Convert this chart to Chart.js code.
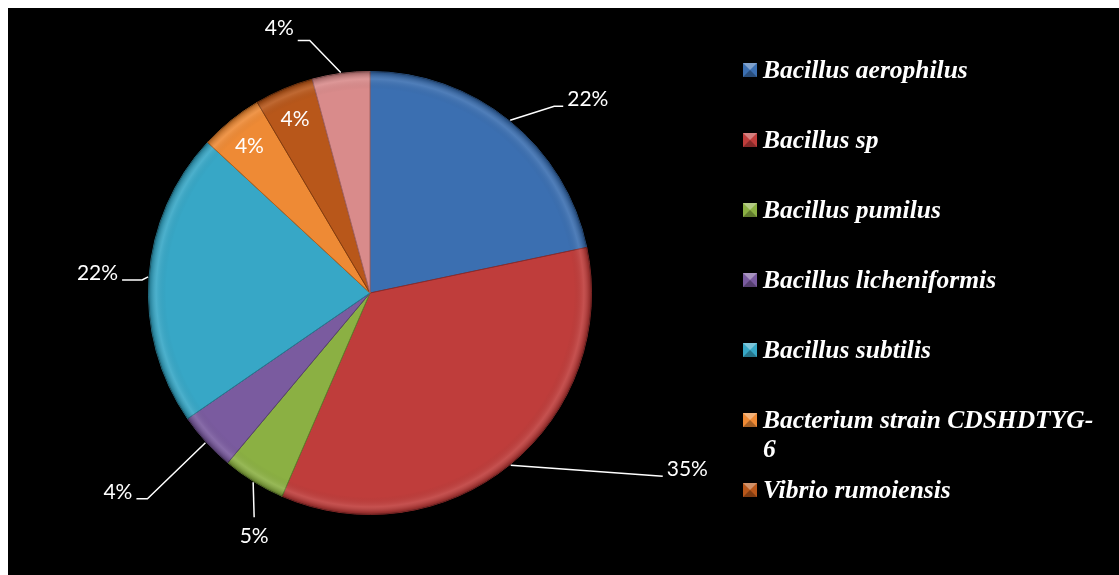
<!DOCTYPE html>
<html>
<head>
<meta charset="utf-8">
<script src="https://cdn.jsdelivr.net/npm/chart.js@4.4.1/dist/chart.umd.min.js"></script>
<style>
  html, body { margin: 0; padding: 0; background: #fff; }
  #wrap { position: absolute; left: 8px; top: 8px; width: 1111px; height: 567px; background: #000; }
</style>
</head>
<body>
<div id="wrap"><canvas id="pie"></canvas></div>
<script>
// species names (legend order = slice order, clockwise from 12 o'clock)
const species = [
	'Bacillus aerophilus',
	'Bacillus sp',
	'Bacillus pumilus',
	'Bacillus licheniformis',
	'Bacillus subtilis',
	'Bacterium strain CDSHDTYG-6',
	'Vibrio rumoiensis',
	'Other'
]
// slice shares
const shares = [21.7, 34.8, 4.6, 4.3, 21.5, 4.6, 4.3, 4.2]
// percentage labels printed on the chart
const pctLabels = ['22%', '35%', '5%', '4%', '22%', '4%', '4%', '4%']

const sliceColors = ['#3b6fb1', '#bf3d3b', '#8bb043', '#7a5b9f', '#37a7c6', '#ee8a35', '#b8571a', '#d98b8b']
const sliceEdges  = ['#2a5488', '#8f2a29', '#627f2c', '#57406f', '#267a91', '#b0621f', '#823b10', '#a56464']

// where each % label goes: inside the slice, or outside with a leader line
// (elbow = offset from the rim point, tail = horizontal run after the elbow)
const labelPlace = [
	{ out: true, elbow: [44, -14], tail: 9 },
	{ out: true, elbow: [152, 11], tail: 0 },
	{ out: true, elbow: [1, 35], tail: 0, below: true },
	{ out: true, elbow: [-58, 56], tail: -11 },
	{ out: true, elbow: [-6, 3], tail: -20 },
	{ out: false },
	{ out: false },
	{ out: true, elbow: [-31, -32], tail: -12, textDy: -5 }
]

const pctFont = '21px Lato'
const legendFont = 'italic bold 25.5px "Liberation Serif"'

// soft rounded rim, like the Excel bevel
const rimPlugin = {
	id: 'rim',
	afterDatasetsDraw(chart) {
		const arc = chart.getDatasetMeta(0).data[0]
		if (!arc) return
		const { x, y, outerRadius: R } = arc.getProps(['x', 'y', 'outerRadius'], true)
		const ctx = chart.ctx
		ctx.save()
		const g = ctx.createRadialGradient(x, y, 0, x, y, R)
		g.addColorStop(0, 'rgba(0,0,0,0)')
		g.addColorStop(0.92, 'rgba(0,0,0,0)')
		g.addColorStop(0.965, 'rgba(255,255,255,0.10)')
		g.addColorStop(0.99, 'rgba(0,0,0,0.18)')
		g.addColorStop(1, 'rgba(0,0,0,0.35)')
		ctx.fillStyle = g
		ctx.beginPath()
		ctx.arc(x, y, R, 0, Math.PI * 2)
		ctx.fill()
		ctx.restore()
	}
}

const pctLabelPlugin = {
	id: 'pctLabels',
	afterDatasetsDraw(chart) {
		const ctx = chart.ctx
		const meta = chart.getDatasetMeta(0)
		ctx.save()
		ctx.font = pctFont
		ctx.fillStyle = '#fff'
		ctx.strokeStyle = '#fff'
		ctx.lineWidth = 1.5
		meta.data.forEach((arc, i) => {
			const p = arc.getProps(['x', 'y', 'startAngle', 'endAngle', 'outerRadius'], true)
			const mid = (p.startAngle + p.endAngle) / 2
			const place = labelPlace[i]
			if (!place.out) {
				const r = p.outerRadius * 0.86
				ctx.textAlign = 'center'
				ctx.textBaseline = 'middle'
				ctx.fillText(pctLabels[i], p.x + Math.cos(mid) * r - 1, p.y + Math.sin(mid) * r + 2)
				return
			}
			const rx = p.x + Math.cos(mid) * (p.outerRadius + 1)
			const ry = p.y + Math.sin(mid) * (p.outerRadius + 1)
			const ex = rx + place.elbow[0]
			const ey = ry + place.elbow[1]
			const tx = ex + place.tail
			ctx.beginPath()
			ctx.moveTo(rx, ry)
			ctx.lineTo(ex, ey)
			if (place.tail) ctx.lineTo(tx, ey)
			ctx.stroke()
			if (place.below) {
				ctx.textAlign = 'center'
				ctx.textBaseline = 'top'
				ctx.fillText(pctLabels[i], ex, ey + 8)
				return
			}
			const side = place.tail < 0 || (place.tail === 0 && place.elbow[0] < 0) ? -1 : 1
			ctx.textAlign = side < 0 ? 'right' : 'left'
			ctx.textBaseline = 'alphabetic'
			ctx.fillText(pctLabels[i], tx + side * 4, ey + (place.textDy || 0))
		})
		ctx.restore()
	}
}

// Excel-style legend on the right, wraps long names, drops what doesn't fit
const sideLegendPlugin = {
	id: 'sideLegend',
	afterDraw(chart) {
		const ctx = chart.ctx
		const markX = 735, textX = 755, firstY = 62, step = 70, lineH = 29
		const maxW = 336
		ctx.save()
		ctx.font = legendFont
		ctx.textAlign = 'left'
		ctx.textBaseline = 'alphabetic'
		species.forEach((name, i) => {
			const cy = firstY + i * step
			if (cy + 20 > chart.height) return
			// marker with a pyramid bevel
			const s = 14, x0 = markX, y0 = cy - s / 2
			ctx.fillStyle = sliceColors[i]
			ctx.fillRect(x0, y0, s, s)
			ctx.fillStyle = 'rgba(255,255,255,0.35)'
			ctx.beginPath()
			ctx.moveTo(x0, y0); ctx.lineTo(x0 + s, y0); ctx.lineTo(x0 + s / 2, y0 + s / 2); ctx.closePath()
			ctx.fill()
			ctx.fillStyle = 'rgba(0,0,0,0.3)'
			ctx.beginPath()
			ctx.moveTo(x0, y0 + s); ctx.lineTo(x0 + s, y0 + s); ctx.lineTo(x0 + s / 2, y0 + s / 2); ctx.closePath()
			ctx.fill()
			// text, wrapped after spaces or hyphens
			const tokens = name.match(/[^\s-]+-?\s*/g)
			const lines = []
			let cur = ''
			tokens.forEach(t => {
				if (cur && ctx.measureText((cur + t).trimEnd()).width > maxW) {
					lines.push(cur.trimEnd())
					cur = t
				} else {
					cur += t
				}
			})
			lines.push(cur.trimEnd())
			ctx.fillStyle = '#fff'
			lines.forEach((ln, k) => ctx.fillText(ln, textX, cy + 8 + k * lineH))
		})
		ctx.restore()
	}
}

new Chart(document.getElementById('pie'), {
	type: 'pie',
	data: {
		labels: species,
		datasets: [{
			data: shares,
			backgroundColor: sliceColors,
			borderColor: sliceEdges,
			borderWidth: 1
		}]
	},
	options: {
		responsive: true,
		maintainAspectRatio: false,
		animation: false,
		layout: { padding: { top: 63, bottom: 60, left: 140, right: 527 } },
		plugins: {
			legend: { display: false },
			tooltip: { enabled: false }
		}
	},
	plugins: [rimPlugin, pctLabelPlugin, sideLegendPlugin]
})
</script>
</body>
</html>
